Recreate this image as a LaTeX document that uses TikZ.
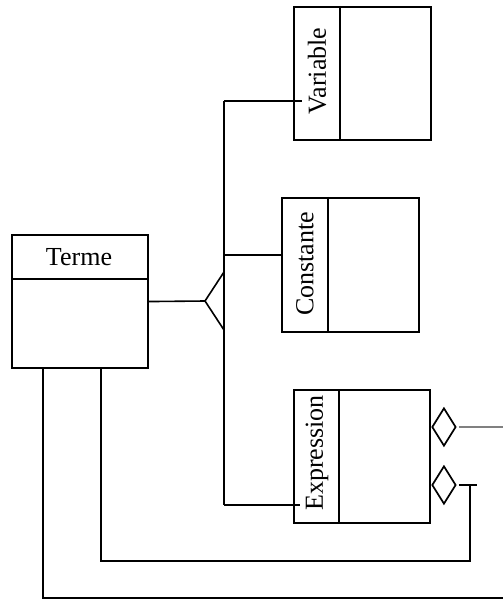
\documentclass[tikz,border=0pt]{standalone}
\usepackage{fontspec}
\setmainfont{Liberation Serif}
\usetikzlibrary{shapes.geometric}
\begin{document}
\begin{tikzpicture}[x=1pt,y=-1pt,
  box/.style={draw, line width=2.1pt, inner sep=0pt, anchor=north west},
  divider/.style={line width=1.8pt},
  conn/.style={line width=1.6pt},
  lbl/.style={font=\fontsize{26}{30}\selectfont, inner sep=0pt},
  agg/.style={diamond, draw, line width=1.7pt, minimum width=24pt, minimum height=38pt, inner sep=0pt, anchor=west}]
\useasboundingbox (0,0) rectangle (503,601);
\fill[white] (0,0) rectangle (503,601);

% Classes
\node[box, minimum width=136pt, minimum height=133pt] (terme) at (11,234) {};
\draw[divider] ([yshift=-45pt]terme.north west) -- ([yshift=-45pt]terme.north east);
\node[lbl] (termeT) at (79,257) {Terme};

\node[box, minimum width=137pt, minimum height=133pt] (var) at (293,6) {};
\draw[divider] ([xshift=47pt]var.north west) -- ([xshift=47pt]var.south west);
\node[lbl, rotate=90] (varT) at (317,71) {Variable};

\node[box, minimum width=137pt, minimum height=134pt] (const) at (281,197) {};
\draw[divider] ([xshift=47pt]const.north west) -- ([xshift=47pt]const.south west);
\node[lbl, rotate=90] (constT) at (305,264) {Constante};

\node[box, minimum width=136pt, minimum height=133pt] (expr) at (293,389) {};
\draw[divider] ([xshift=46pt]expr.north west) -- ([xshift=46pt]expr.south west);
\node[lbl, rotate=90] (exprT) at (317,453) {Expression};

% Generalisation
\coordinate (tip) at (205,301);
\coordinate (tb1) at (224,272);
\coordinate (tb2) at (224,330);
\coordinate (jv) at (224,101);
\coordinate (jc) at (224,255);
\coordinate (je) at (224,505);
\coordinate (vin) at (302,101);
\coordinate (ein) at (300,505);
\draw[conn] (terme.east) -- (tip);
\draw[conn] (tb1) -- (tip) -- (tb2);
\draw[conn] (jv) -- (je);
\draw[conn] (jv) -- (vin);
\draw[conn] (jc) -- (const.west |- jc);
\draw[conn] (je) -- (ein);

% Aggregations
\node[agg] (d1) at (expr.east |- 0,427) {};
\node[agg] (d2) at (expr.east |- 0,485) {};
\coordinate (o1) at (503,427);
\draw[conn, gray] ([xshift=2pt]d1.east) -- (o1);
\coordinate (t2) at (477,485);
\coordinate (k1) at (470,485);
\coordinate (k2) at (470,561);
\coordinate (k3) at (101,561);
\coordinate (k4) at (101,367);
\draw[conn] ([xshift=2pt]d2.east) -- (t2);
\draw[conn] (k1) -- (k2) -- (k3) -- (k4);
\coordinate (m1) at (43,367);
\coordinate (m2) at (43,598);
\coordinate (m3) at (503,598);
\draw[conn] (m1) -- (m2) -- (m3);
\end{tikzpicture}
\end{document}
